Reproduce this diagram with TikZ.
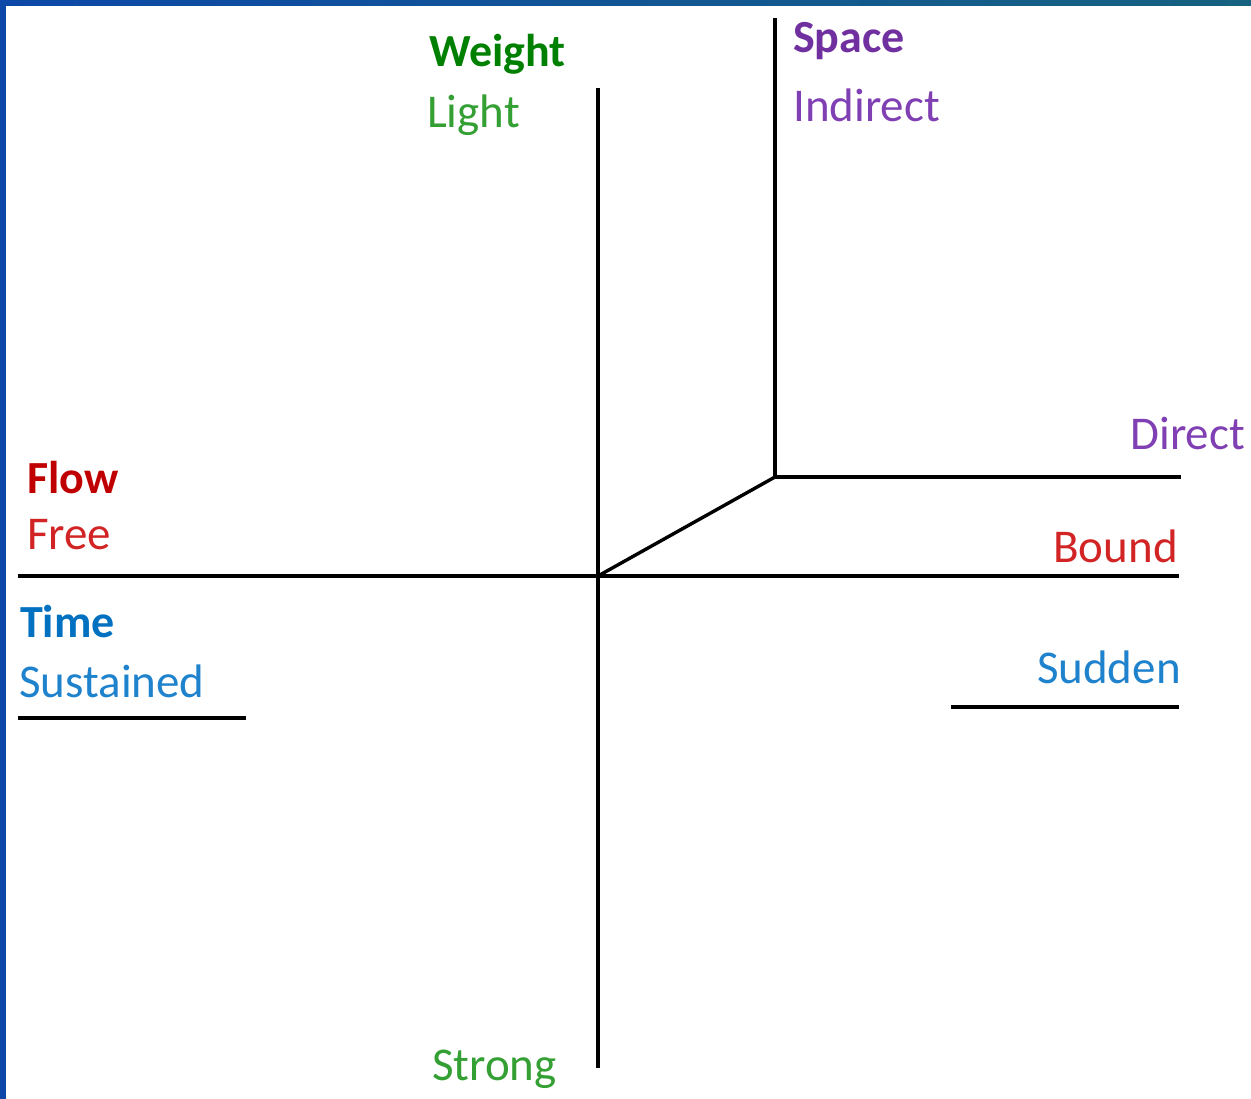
\documentclass[tikz,border=0pt]{standalone}
\usepackage{fontspec}
\setmainfont{Carlito}
\definecolor{frameA}{RGB}{13,72,168}
\definecolor{frameB}{RGB}{22,98,128}
\definecolor{wgtH}{RGB}{0,128,0}
\definecolor{wgtT}{RGB}{52,160,52}
\definecolor{spcH}{RGB}{112,48,160}
\definecolor{spcT}{RGB}{128,64,180}
\definecolor{flwH}{RGB}{192,0,0}
\definecolor{flwT}{RGB}{210,36,36}
\definecolor{timH}{RGB}{0,112,192}
\definecolor{timT}{RGB}{30,130,205}
\tikzset{
  axis/.style={line width=3.4pt, black},
  head/.style={inner sep=0pt, font=\bfseries\fontsize{46}{48}\selectfont},
  term/.style={inner sep=0pt, font=\fontsize{47}{49}\selectfont},
}
\begin{document}
\begin{tikzpicture}[x=1pt,y=-1pt]
\useasboundingbox (0,0) rectangle (1251,1099);
\fill[white] (0,0) rectangle (1251,1099);
\shade[left color=frameA, right color=frameB] (0,0) rectangle (1251,6);
\fill[frameA] (0,0) rectangle (6,1099);
% coordinates
\coordinate (O) at (598,576);
\coordinate (wTop) at (598,88);
\coordinate (wBot) at (598,1068);
\coordinate (fL) at (18,576);
\coordinate (fR) at (1179,576);
\coordinate (sC) at (775,477);
\coordinate (sTop) at (775,18);
\coordinate (sR) at (1181,477);
\coordinate (tL1) at (18,718);
\coordinate (tL2) at (246,718);
\coordinate (tR1) at (951,707);
\coordinate (tR2) at (1179,707);
% axes
\draw[axis] (wTop) -- (wBot);
\draw[axis] (fL) -- (fR);
\draw[axis] (sTop) -- (sC) -- (sR);
\draw[axis] (O) -- (sC);
\draw[axis] (tL1) -- (tL2);
\draw[axis] (tR1) -- (tR2);
% labels
\node[head, text=wgtH, anchor=base west] (weight) at (429,67) {Weight};
\node[term, text=wgtT, anchor=base west] (light) at (427,128) {Light};
\node[term, text=wgtT, anchor=base west] (strong) at (432,1080) {Strong};
\node[head, text=spcH, anchor=base west] (space) at (793,53) {Space};
\node[term, text=spcT, anchor=base west] (indirect) at (793,122) {Indirect};
\node[term, text=spcT, anchor=base east] (direct) at (1245,449) {Direct};
\node[head, text=flwH, anchor=base west] (flow) at (27,493) {Flow};
\node[term, text=flwT, anchor=base west] (free) at (27,549) {Free};
\node[term, text=flwT, anchor=base east] (bound) at (1178,562) {Bound};
\node[head, text=timH, anchor=base west] (time) at (20,637) {Time};
\node[term, text=timT, anchor=base west] (sustained) at (19,697) {Sustained};
\node[term, text=timT, anchor=base east] (sudden) at (1181,683) {Sudden};
\end{tikzpicture}
\end{document}
